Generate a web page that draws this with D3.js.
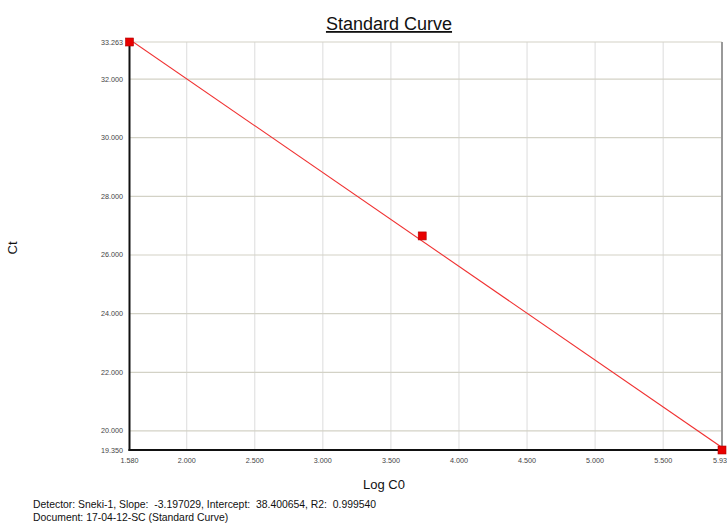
<!DOCTYPE html>
<html>
<head>
<meta charset="utf-8">
<script src="https://cdn.jsdelivr.net/npm/d3@7.9.0/dist/d3.min.js"></script>
<style>
  body { margin: 0; background: #fff; overflow: hidden; }
  svg { display: block; font-family: Arial, "Liberation Sans", sans-serif; }
</style>
</head>
<body>
<svg id="chart" width="727" height="523"></svg>
<script>
// standard curve points (Log C0 vs Ct)
const logC0 = [1.58, 3.73, 5.932];
const ct = [33.263, 26.65, 19.35];
const slope = -3.197029;
const intercept = 38.400654;
const xTicks = [1.58, 2.0, 2.5, 3.0, 3.5, 4.0, 4.5, 5.0, 5.5, 5.932];
const yTicks = [19.35, 20, 22, 24, 26, 28, 30, 32, 33.263];
const footer = [
  'Detector: Sneki-1, Slope:  -3.197029, Intercept:  38.400654, R2:  0.999540',
  'Document: 17-04-12-SC (Standard Curve)'
];

const svg = d3.select('#chart');
const plotLeft = 129.5, plotRight = 722, plotTop = 42, plotBottom = 450;

const x = d3.scaleLinear().domain([1.58, 5.932]).range([plotLeft, plotRight]);
const y = d3.scaleLinear().domain([19.35, 33.263]).range([plotBottom, plotTop]);

// vertical grid
svg.append('g')
  .selectAll('line')
  .data(xTicks.slice(1, -1))
  .join('line')
  .attr('x1', d => x(d)).attr('x2', d => x(d))
  .attr('y1', plotTop).attr('y2', plotBottom)
  .attr('stroke', '#e2e2e2').attr('stroke-width', 1.2);

// horizontal grid
svg.append('g')
  .selectAll('line')
  .data(yTicks.slice(1))
  .join('line')
  .attr('x1', plotLeft).attr('x2', plotRight)
  .attr('y1', d => y(d)).attr('y2', d => y(d))
  .attr('stroke', '#d3d2c6').attr('stroke-width', 1.2);

// right border
svg.append('line')
  .attr('x1', plotRight).attr('x2', plotRight)
  .attr('y1', plotTop).attr('y2', plotBottom)
  .attr('stroke', '#999').attr('stroke-width', 2);

// axes lines
svg.append('line')
  .attr('x1', plotLeft).attr('x2', plotLeft)
  .attr('y1', plotTop).attr('y2', plotBottom + 1)
  .attr('stroke', '#111').attr('stroke-width', 2);
svg.append('line')
  .attr('x1', plotLeft - 1).attr('x2', plotRight)
  .attr('y1', plotBottom).attr('y2', plotBottom)
  .attr('stroke', '#111').attr('stroke-width', 2);

// tick labels
svg.append('g')
  .selectAll('text')
  .data(yTicks)
  .join('text')
  .attr('x', 123)
  .attr('y', d => y(d) + 2.5)
  .attr('text-anchor', 'end')
  .attr('font-size', 7.2)
  .attr('fill', '#444')
  .text(d => d3.format('.3f')(d));

svg.append('g')
  .selectAll('text')
  .data(xTicks)
  .join('text')
  .attr('x', d => x(d))
  .attr('y', 463)
  .attr('text-anchor', 'middle')
  .attr('font-size', 7.2)
  .attr('fill', '#444')
  .text(d => d3.format('.3f')(d));

// regression line, clipped to plot area
svg.append('clipPath').attr('id', 'plot-clip')
  .append('rect')
  .attr('x', plotLeft).attr('y', plotTop)
  .attr('width', plotRight - plotLeft).attr('height', plotBottom - plotTop);

const line = d3.line()
  .x(d => x(d))
  .y(d => y(slope * d + intercept));

svg.append('path')
  .datum(x.domain())
  .attr('d', line)
  .attr('clip-path', 'url(#plot-clip)')
  .attr('fill', 'none')
  .attr('stroke', '#f03030')
  .attr('stroke-width', 1.1);

// points
svg.append('g')
  .selectAll('rect')
  .data(logC0.map((d, i) => [d, ct[i]]))
  .join('rect')
  .attr('x', d => x(d[0]) - 4)
  .attr('y', d => y(d[1]) - 4)
  .attr('width', 8).attr('height', 8)
  .attr('fill', '#e80000')
  .attr('stroke', '#b00000')
  .attr('stroke-width', 0.6);

// title and axis labels
svg.append('text')
  .attr('x', 389).attr('y', 30)
  .attr('text-anchor', 'middle')
  .attr('font-size', 18)
  .attr('text-decoration', 'underline')
  .attr('fill', '#111')
  .text('Standard Curve');

svg.append('text')
  .attr('transform', 'translate(17,248) rotate(-90)')
  .attr('text-anchor', 'middle')
  .attr('font-size', 13)
  .attr('fill', '#111')
  .text('Ct');

svg.append('text')
  .attr('x', 384).attr('y', 489)
  .attr('text-anchor', 'middle')
  .attr('font-size', 13)
  .attr('fill', '#111')
  .text('Log C0');

svg.append('g')
  .selectAll('text')
  .data(footer)
  .join('text')
  .attr('x', 33)
  .attr('y', (d, i) => 507.5 + i * 13)
  .attr('font-size', 10.4)
  .attr('fill', '#111')
  .style('white-space', 'pre')
  .text(d => d);
</script>
</body>
</html>
